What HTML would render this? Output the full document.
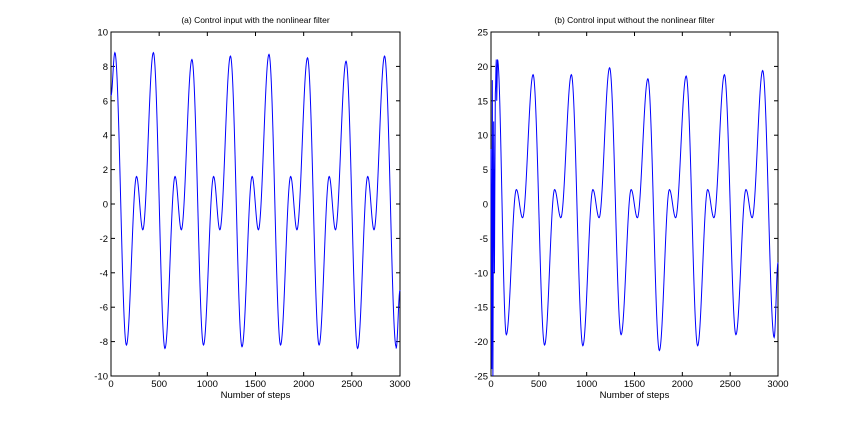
<!DOCTYPE html>
<html><head><style>
body{margin:0;background:#fff;}
svg text{font-family:"Liberation Sans",Arial,sans-serif;font-size:9.5px;fill:#000;}
</style></head><body>
<svg id="s" width="860" height="422" xmlns="http://www.w3.org/2000/svg"></svg>
<script>
const s=document.getElementById('s');
let h='';
function plot(x0,x1,y0,y1,ymin,ymax,ystep,title,pts){
  const W=x1-x0,H=y1-y0;
  const X=t=>x0+t/3000*W, Y=v=>y1-(v-ymin)/(ymax-ymin)*H;
  h+=`<rect x="${x0}" y="${y0}" width="${W}" height="${H}" fill="#fff" stroke="#000" stroke-width="1"/>`;
  for(let t=0;t<=3000;t+=500){const x=X(t);
    h+=`<line x1="${x}" y1="${y1}" x2="${x}" y2="${y1-4}" stroke="#000"/><line x1="${x}" y1="${y0}" x2="${x}" y2="${y0+4}" stroke="#000"/>`;
    h+=`<text x="${x}" y="${y1+11}" text-anchor="middle">${t}</text>`;}
  for(let v=ymin;v<=ymax;v+=ystep){const y=Y(v);
    h+=`<line x1="${x0}" y1="${y}" x2="${x0+4}" y2="${y}" stroke="#000"/><line x1="${x1}" y1="${y}" x2="${x1-4}" y2="${y}" stroke="#000"/>`;
    h+=`<text x="${x0-3}" y="${y+3.5}" text-anchor="end">${v}</text>`;}
  h+=`<text x="${(x0+x1)/2}" y="${y1+22}" text-anchor="middle">Number of steps</text>`;
  h+=`<text x="${(x0+x1)/2}" y="${y0-9}" text-anchor="middle" style="font-size:8.5px">${title}</text>`;
  // interpolate
  let d='';
  for(let i=0;i<pts.length-1;i++){
    const [ta,va]=pts[i],[tb,vb]=pts[i+1];
    const n=Math.max(2,Math.round((tb-ta)/4));
    for(let k=(i?1:0);k<=n;k++){const f=k/n;const v=va+(vb-va)*(1-Math.cos(Math.PI*f))/2;const t=ta+(tb-ta)*f;
      d+=(d?'L':'M')+X(t).toFixed(2)+' '+Y(v).toFixed(2);}
  }
  h+=`<path d="${d}" fill="none" stroke="#0000ff" stroke-width="1"/>`;
}
function gen(peaks,troughs,bump,dip,start){
  let p=start.slice();
  for(let k=0;k<8;k++){const o=40+k*400;
    if(k>0)p.push([o,peaks[k]]);
    p.push([o+120,troughs[k]]);p.push([o+225,bump]);p.push([o+290,dip]);}
  return p;
}
let A=gen([8.8,8.8,8.4,8.6,8.7,8.5,8.3,8.6],[-8.2,-8.4,-8.2,-8.3,-8.2,-8.2,-8.4,-8.3],1.6,-1.5,[[0,6.3],[40,8.8]]);
A=A.filter(q=>q[0]<=2960);A.push([2960,-8.4]);A.push([3000,-5]);
plot(111,400,32,376,-10,10,2,'(a)  Control input with the nonlinear filter',A);
let B=gen([21,18.8,18.8,19.8,18.2,18.6,18.8,19.4],[-19,-20.5,-20.6,-19,-21.3,-20.6,-19,-19.4],2.1,-2,[[0,8],[8,-24],[14,18],[20,-25],[28,12],[36,-10],[45,16],[55,21],[60,15],[68,21]]);
B=B.filter(q=>q[0]<=2960);B.push([2960,-19.4]);B.push([3000,-8.5]);
plot(491,778,32,376,-25,25,5,'(b)  Control input without the nonlinear filter',B);
s.innerHTML=h;
</script>
</body></html>
